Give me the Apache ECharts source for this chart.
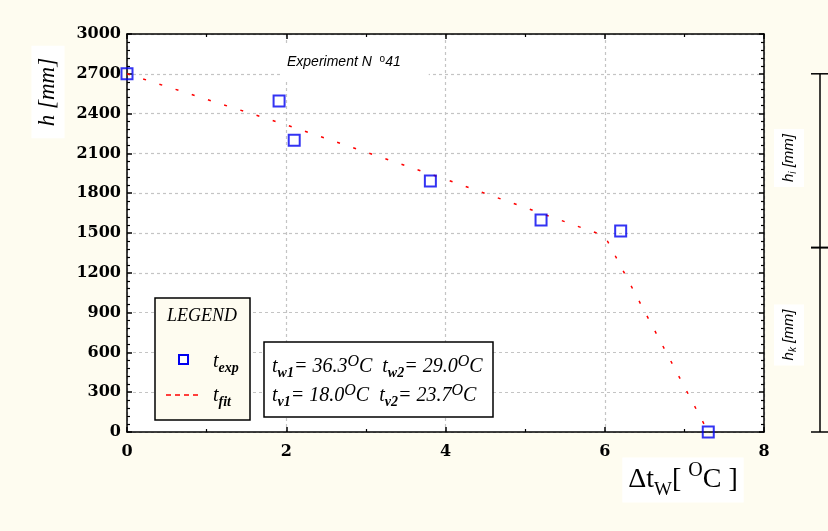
<!DOCTYPE html>
<html><head><meta charset="utf-8">
<script src="https://cdn.jsdelivr.net/npm/echarts@6/dist/echarts.min.js"></script>
<style>html,body{margin:0;padding:0;background:#fefcf0}#c{width:828px;height:531px}</style>
</head><body><div id="c"></div>
<script>
// ---- data ----
const expX = [0, 1.91, 2.1, 3.81, 5.2, 6.2, 7.3];
const expH = [2700, 2495, 2200, 1892, 1598, 1515, 0];
const fitX = [0, 2, 4, 6, 7.3];
const fitH = [2700, 2315, 1905, 1478, 0];
const bracketH = [2700, 1390, 0];
const xMin = 0, xMax = 8, xStep = 2;
const yMin = 0, yMax = 3000, yStep = 300;

const chart = echarts.init(document.getElementById('c'), null, {renderer: 'canvas'});
const labelFont = {fontFamily: 'DejaVu Serif', fontWeight: 'bold', fontSize: 16, color: '#000', formatter: v => String(v)};
const axisLine = {show: true, onZero: false, lineStyle: {color: '#000', width: 1.5}};
const tick = {show: true, inside: true, length: 5, lineStyle: {color: '#000', width: 1.5}};
const grid = {show: true, lineStyle: {color: '#c4c4c4', width: 1.2, type: [3, 3]}};

chart.setOption({
  backgroundColor: '#fefcf0',
  animation: false,
  grid: {left: 127, right: 64, top: 34, bottom: 99, show: true, backgroundColor: '#fff', borderWidth: 0},
  xAxis: [
    {type: 'value', min: xMin, max: xMax, interval: xStep, position: 'bottom',
     axisLine, axisTick: tick, minorTick: {show: true, splitNumber: 2, length: 3, lineStyle: {color: '#000', width: 1.2}},
     splitLine: grid, axisLabel: Object.assign({margin: 12}, labelFont)},
    {type: 'value', min: xMin, max: xMax, interval: xStep, position: 'top',
     axisLine, axisTick: tick, minorTick: {show: true, splitNumber: 2, length: 3, lineStyle: {color: '#000', width: 1.2}},
     splitLine: {show: false}, axisLabel: {show: false}}
  ],
  yAxis: [
    {type: 'value', min: yMin, max: yMax, interval: yStep, position: 'left',
     axisLine, axisTick: tick, minorTick: {show: true, splitNumber: 5, length: 3, lineStyle: {color: '#000', width: 1.2}},
     splitLine: grid, axisLabel: Object.assign({margin: 6}, labelFont)},
    {type: 'value', min: yMin, max: yMax, interval: yStep, position: 'right',
     axisLine, axisTick: tick, minorTick: {show: true, splitNumber: 5, length: 3, lineStyle: {color: '#000', width: 1.2}},
     splitLine: {show: false}, axisLabel: {show: false}}
  ],
  series: [
    {type: 'line', name: 'fit', data: fitX.map((x, i) => [x, fitH[i]]), symbol: 'none',
     lineStyle: {color: '#ff0000', width: 1.5, type: [3, 14]}, z: 3},
    {type: 'scatter', name: 'exp', data: expX.map((x, i) => [x, expH[i]]), symbol: 'rect', symbolSize: 11,
     itemStyle: {color: 'rgba(255,255,255,0)', borderColor: '#0000f0', borderWidth: 2}, z: 4}
  ]
});

const serifI = 'Liberation Serif';
const yTop = chart.convertToPixel({yAxisIndex: 0}, bracketH[0]);
const yMid = chart.convertToPixel({yAxisIndex: 0}, bracketH[1]);
const yBot = chart.convertToPixel({yAxisIndex: 0}, bracketH[2]);
const bx = 820;

const paramRich = {
  b: {fontFamily: serifI, fontStyle: 'italic', fontSize: 20, lineHeight: 26, verticalAlign: 'middle', color: '#000'},
  s: {fontFamily: serifI, fontStyle: 'italic', fontWeight: 'bold', fontSize: 14, lineHeight: 14, verticalAlign: 'bottom', color: '#000'},
  p: {fontFamily: serifI, fontStyle: 'italic', fontSize: 16, lineHeight: 14, verticalAlign: 'top', color: '#000'}
};
const sideRich = {
  a: {fontFamily: 'Liberation Sans', fontStyle: 'italic', fontSize: 15, lineHeight: 18, verticalAlign: 'middle', color: '#000'},
  s: {fontFamily: 'Liberation Sans', fontStyle: 'italic', fontSize: 10, lineHeight: 10, verticalAlign: 'bottom', color: '#000'}
};

chart.setOption({
  graphic: [
    // y-axis title
    {type: 'text', x: 48, y: 92, rotation: Math.PI / 2, z: 10,
     style: {text: 'h [mm]', fontFamily: serifI, fontStyle: 'italic', fontSize: 23, fill: '#000',
             align: 'center', verticalAlign: 'middle', backgroundColor: '#fff', padding: [6, 12, 4, 12]}},
    // x-axis title
    {type: 'text', x: 683, y: 480, z: 10,
     style: {text: '{a|Δt}{s|W}{a|[ }{p|O}{a|C ]}', align: 'center', verticalAlign: 'middle',
             backgroundColor: '#fff', padding: [3, 6, 3, 6],
             rich: {a: {fontFamily: serifI, fontSize: 28, lineHeight: 39, verticalAlign: 'middle', color: '#000'},
                    s: {fontFamily: serifI, fontSize: 19, lineHeight: 19, verticalAlign: 'bottom', color: '#000'},
                    p: {fontFamily: serifI, fontSize: 20, lineHeight: 20, verticalAlign: 'top', color: '#000'}}}},
    // experiment label
    {type: 'text', x: 280, y: 62, z: 10,
     style: {text: '{a|Experiment N  }{o|o}{a|41}', verticalAlign: 'middle', backgroundColor: '#fff', padding: [9, 28, 9, 7],
             rich: {a: {fontFamily: 'Liberation Sans', fontStyle: 'italic', fontSize: 14, lineHeight: 16, verticalAlign: 'middle', color: '#000'},
                    o: {fontFamily: 'Liberation Sans', fontSize: 10, lineHeight: 10, verticalAlign: 'top', color: '#000'}}}},
    // legend box
    {type: 'rect', shape: {x: 155, y: 298, width: 95, height: 122}, z: 10,
     style: {fill: '#fefcf0', stroke: '#000', lineWidth: 1.5}},
    {type: 'text', x: 202, y: 316, z: 11,
     style: {text: 'LEGEND', fontFamily: serifI, fontStyle: 'italic', fontSize: 18, fill: '#000', align: 'center', verticalAlign: 'middle'}},
    {type: 'rect', shape: {x: 179, y: 355, width: 9, height: 9}, z: 11,
     style: {fill: '#fff', stroke: '#0000f0', lineWidth: 2}},
    {type: 'line', shape: {x1: 166, y1: 395, x2: 200, y2: 395}, z: 11,
     style: {stroke: '#ff0000', lineWidth: 1.6, lineDash: [5, 4]}},
    {type: 'text', x: 213, y: 362, z: 11,
     style: {text: '{b|t}{s|exp}', verticalAlign: 'middle', rich: paramRich}},
    {type: 'text', x: 213, y: 396, z: 11,
     style: {text: '{b|t}{s|fit}', verticalAlign: 'middle', rich: paramRich}},
    // parameter box
    {type: 'rect', shape: {x: 264, y: 342, width: 229, height: 75}, z: 10,
     style: {fill: '#fff', stroke: '#000', lineWidth: 1.5}},
    {type: 'text', x: 272, y: 367, z: 11,
     style: {text: '{b|t}{s|w1}{b|= 36.3}{p|O}{b|C  t}{s|w2}{b|= 29.0}{p|O}{b|C}', verticalAlign: 'middle', rich: paramRich}},
    {type: 'text', x: 272, y: 396, z: 11,
     style: {text: '{b|t}{s|v1}{b|= 18.0}{p|O}{b|C  t}{s|v2}{b|= 23.7}{p|O}{b|C}', verticalAlign: 'middle', rich: paramRich}},
    // right bracket
    {type: 'line', shape: {x1: bx, y1: yTop, x2: bx, y2: yBot}, z: 10, style: {stroke: '#000', lineWidth: 1.5}},
    {type: 'line', shape: {x1: bx - 9, y1: yTop, x2: bx + 9, y2: yTop}, z: 10, style: {stroke: '#000', lineWidth: 1.5}},
    {type: 'line', shape: {x1: bx - 9, y1: yMid, x2: bx + 9, y2: yMid}, z: 10, style: {stroke: '#000', lineWidth: 2}},
    {type: 'line', shape: {x1: bx - 9, y1: yBot, x2: bx + 9, y2: yBot}, z: 10, style: {stroke: '#000', lineWidth: 1.5}},
    {type: 'text', x: 789, y: 158, rotation: Math.PI / 2, z: 10,
     style: {text: '{a|h}{s|i}{a| [mm]}', align: 'center', verticalAlign: 'middle', backgroundColor: '#fff', padding: [6, 5, 6, 5], rich: sideRich}},
    {type: 'text', x: 789, y: 335, rotation: Math.PI / 2, z: 10,
     style: {text: '{a|h}{s|k}{a| [mm]}', align: 'center', verticalAlign: 'middle', backgroundColor: '#fff', padding: [6, 5, 6, 5], rich: sideRich}}
  ]
});
</script></body></html>
